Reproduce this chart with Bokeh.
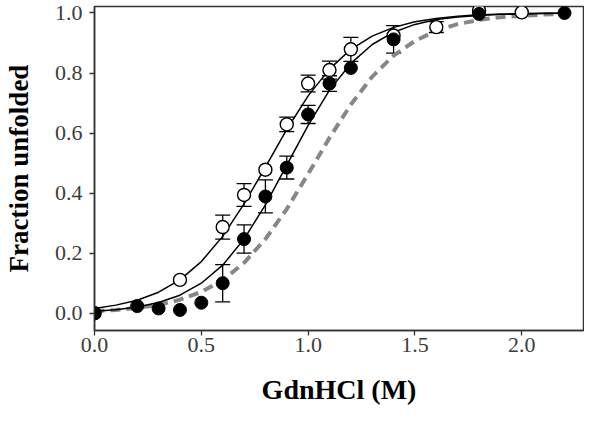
from bokeh.plotting import figure
from bokeh.models import Range1d, FixedTicker, Whisker, TeeHead, ColumnDataSource
from bokeh.embed import file_html
from bokeh.resources import INLINE

# ---- data ----
conc_open = [0.0, 0.4, 0.6, 0.7, 0.8, 0.9, 1.0, 1.1, 1.2, 1.4, 1.6, 1.8, 2.0]
frac_open = [0.0, 0.111, 0.287, 0.394, 0.478, 0.629, 0.765, 0.810, 0.879, 0.925, 0.953, 1.008, 1.002]
err_open = [0, 0, 0.040, 0.038, 0, 0.024, 0.028, 0.030, 0.040, 0, 0.018, 0, 0]

conc_filled = [0.0, 0.2, 0.3, 0.4, 0.5, 0.6, 0.7, 0.8, 0.9, 1.0, 1.1, 1.2, 1.4, 1.8, 2.2]
frac_filled = [0.0, 0.024, 0.016, 0.011, 0.035, 0.100, 0.247, 0.389, 0.485, 0.662, 0.765, 0.817, 0.912, 0.997, 1.0]
err_filled = [0, 0, 0, 0, 0, 0.062, 0.047, 0.055, 0.038, 0.030, 0.026, 0, 0.046, 0, 0]

curve_x = [0.0, 0.1, 0.2, 0.3, 0.4, 0.5, 0.6, 0.7, 0.8, 0.9, 1.0, 1.1, 1.2,
           1.3, 1.4, 1.5, 1.6, 1.7, 1.8, 1.9, 2.0, 2.1, 2.2]
curve_open = [0.016, 0.027, 0.043, 0.070, 0.111, 0.172, 0.256, 0.364, 0.487, 0.612, 0.724, 0.813, 0.879,
              0.923, 0.952, 0.971, 0.982, 0.989, 0.994, 0.996, 0.998, 0.999, 0.999]
curve_filled = [0.007, 0.012, 0.021, 0.036, 0.060, 0.100, 0.160, 0.247, 0.361, 0.493, 0.626, 0.743, 0.832,
                0.895, 0.936, 0.962, 0.978, 0.987, 0.992, 0.9955, 0.997, 0.9985, 0.999]
curve_dashed = [0.007, 0.011, 0.018, 0.028, 0.045, 0.071, 0.110, 0.168, 0.247, 0.347, 0.464, 0.584, 0.695,
                0.788, 0.858, 0.907, 0.941, 0.963, 0.977, 0.986, 0.991, 0.9945, 0.997]

x_ticks = [0.0, 0.5, 1.0, 1.5, 2.0]
x_tick_labels = ["0.0", "0.5", "1.0", "1.5", "2.0"]
y_ticks = [0.0, 0.2, 0.4, 0.6, 0.8, 1.0]
y_tick_labels = ["0.0", "0.2", "0.4", "0.6", "0.8", "1.0"]

FONT = "Liberation Serif"

p = figure(width=584, height=407,
           x_range=Range1d(0, 2.289), y_range=Range1d(-0.0575, 1.0216),
           output_backend="svg", toolbar_location=None,
           min_border_left=92, min_border_right=1, min_border_top=6, min_border_bottom=76)

p.xgrid.visible = False
p.ygrid.visible = False
p.outline_line_color = "#333333"
p.outline_line_width = 1.5
p.background_fill_color = "white"
p.border_fill_color = "white"

for ax in (p.xaxis[0], p.yaxis[0]):
    ax.axis_line_color = "#333333"
    ax.axis_line_width = 1.5
    ax.major_tick_line_color = "#333333"
    ax.major_tick_line_width = 1.3
    ax.major_tick_out = 5
    ax.major_tick_in = 0
    ax.minor_tick_line_color = None
    ax.major_label_text_font = FONT
    ax.major_label_text_font_size = "22px"
    ax.major_label_text_color = "#3c3c3c"
    ax.axis_label_text_font = FONT
    ax.axis_label_text_font_style = "bold"
    ax.axis_label_text_color = "black"

p.xaxis.axis_label_text_font_size = "28px"
p.yaxis.axis_label_text_font_size = "27px"

p.xaxis.ticker = FixedTicker(ticks=x_ticks)
p.xaxis.major_label_overrides = {t: l for t, l in zip(x_ticks, x_tick_labels)}
p.yaxis.ticker = FixedTicker(ticks=y_ticks)
p.yaxis.major_label_overrides = {t: l for t, l in zip(y_ticks, y_tick_labels)}
p.xaxis.axis_label = "GdnHCl (M)"
p.yaxis.axis_label = "Fraction unfolded"
p.xaxis.major_label_standoff = 2
p.xaxis.axis_label_standoff = 19
p.yaxis.major_label_standoff = 7
p.yaxis.axis_label_standoff = 18

# error bars
def whisker_source(xs, ys, es):
    bx, up, lo = [], [], []
    for x, y, e in zip(xs, ys, es):
        if e > 0:
            bx.append(x); up.append(y + e); lo.append(y - e)
    return ColumnDataSource(dict(base=bx, upper=up, lower=lo))

for xs, ys, es in ((conc_open, frac_open, err_open), (conc_filled, frac_filled, err_filled)):
    w = Whisker(source=whisker_source(xs, ys, es), base="base", upper="upper", lower="lower",
                line_color="black", line_width=1.3, level="underlay",
                upper_head=TeeHead(size=15, line_color="black", line_width=1.3),
                lower_head=TeeHead(size=15, line_color="black", line_width=1.3))
    p.add_layout(w)

# fitted curves
p.line(curve_x, curve_dashed, line_color="#878787", line_width=4, line_dash="10 6")
p.line(curve_x, curve_open, line_color="black", line_width=1.5)
p.line(curve_x, curve_filled, line_color="black", line_width=1.5)

# data points
p.scatter(conc_open, frac_open, marker="circle", size=13,
          fill_color="white", line_color="black", line_width=1.4)
p.scatter(conc_filled, frac_filled, marker="circle", size=13,
          fill_color="black", line_color="black", line_width=1.0)

open("out.html", "w").write(file_html(p, INLINE))
